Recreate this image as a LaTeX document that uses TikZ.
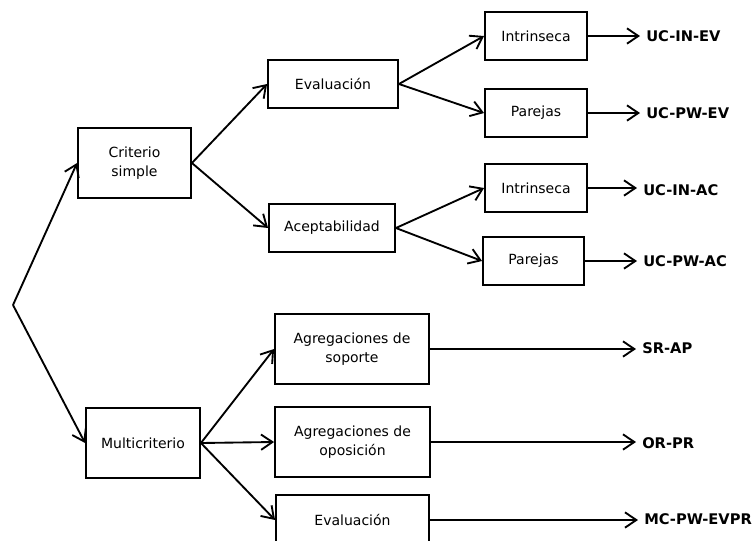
\documentclass[tikz,border=0pt]{standalone}
\usepackage{fontspec}
\setmainfont{DejaVu Sans}
\usetikzlibrary{arrows.meta}

\tikzset{every picture/.style={line width=1.4pt}}
\tikzset{
	blk/.style={draw, rectangle, inner sep=2pt, align=center, font=\fontsize{10.5}{14.5}\selectfont},
	res/.style={anchor=west, inner xsep=4pt, inner ysep=2pt, font=\fontsize{11}{13}\selectfont\bfseries},
	conn/.style={-{Straight Barb[length=8.5pt,width=11.5pt,line width=1.4pt]}}
}

\begin{document}
\begin{tikzpicture}[x=0.75pt,y=0.75pt,yscale=-1,xscale=1]
	\useasboundingbox (0,0) rectangle (754,540);
	\clip (0,0) rectangle (754,540);

	%Start point
	\coordinate (root) at (13,305);

	%Shape: Rectangle -- first level
	\node [blk, minimum width=84.75pt, minimum height=52.5pt] (crit) at (134.5,163) {Criterio\\simple};
	\node [blk, minimum width=85.5pt, minimum height=52.5pt] (multi) at (143,443) {Multicriterio};

	%Shape: Rectangle -- second level
	\node [blk, minimum width=97.5pt, minimum height=36pt] (evalA) at (333,84) {Evaluación};
	\node [blk, minimum width=94.5pt, minimum height=36pt] (acep) at (332,228) {Aceptabilidad};
	\node [blk, minimum width=115.5pt, minimum height=52.5pt] (sop) at (352,349) {Agregaciones de\\soporte};
	\node [blk, minimum width=116.25pt, minimum height=52.5pt] (opo) at (352.5,442) {Agregaciones de\\oposición};
	\node [blk, minimum width=114.75pt, minimum height=37.5pt] (evalB) at (352.5,520) {Evaluación};

	%Shape: Rectangle -- third level
	\node [blk, minimum width=76.5pt, minimum height=36pt] (inEV) at (536,36) {Intrinseca};
	\node [blk, minimum width=76.5pt, minimum height=36pt] (pwEV) at (536,113) {Parejas};
	\node [blk, minimum width=76.5pt, minimum height=36pt] (inAC) at (536,188) {Intrinseca};
	\node [blk, minimum width=75.75pt, minimum height=36pt] (pwAC) at (533.5,261) {Parejas};

	% Text Node -- results
	\node [res] (rINEV) at (640,36) {UC-IN-EV};
	\node [res] (rPWEV) at (640,113) {UC-PW-EV};
	\node [res] (rINAC) at (637,190) {UC-IN-AC};
	\node [res] (rPWAC) at (637,261) {UC-PW-AC};
	\node [res] (rSRAP) at (636,348) {SR-AP};
	\node [res] (rORPR) at (636,443) {OR-PR};
	\node [res] (rMCPW) at (638,519) {MC-PW-EVPR};

	%Straight Lines -- tree
	\draw [conn] (root) -- (crit.west);
	\draw [conn] (root) -- (multi.west);
	\draw [conn] (crit.east) -- (evalA.west);
	\draw [conn] (crit.east) -- (acep.west);
	\draw [conn] (evalA.east) -- (inEV.west);
	\draw [conn] (evalA.east) -- (pwEV.west);
	\draw [conn] (acep.east) -- (inAC.west);
	\draw [conn] (acep.east) -- (pwAC.west);
	\draw [conn] (multi.east) -- (sop.west);
	\draw [conn] (multi.east) -- (opo.west);
	\draw [conn] (multi.east) -- (evalB.west);

	%Straight Lines -- to results
	\draw [conn] (inEV.east) -- (rINEV.west);
	\draw [conn] (pwEV.east) -- (rPWEV.west);
	\draw [conn] (inAC.east) -- (inAC.east -| rINAC.west);
	\draw [conn] (pwAC.east) -- (rPWAC.west);
	\draw [conn] (sop.east) -- (sop.east -| rSRAP.west);
	\draw [conn] (opo.east) -- (opo.east -| rORPR.west);
	\draw [conn] (evalB.east) -- (evalB.east -| rMCPW.west);

\end{tikzpicture}
\end{document}
